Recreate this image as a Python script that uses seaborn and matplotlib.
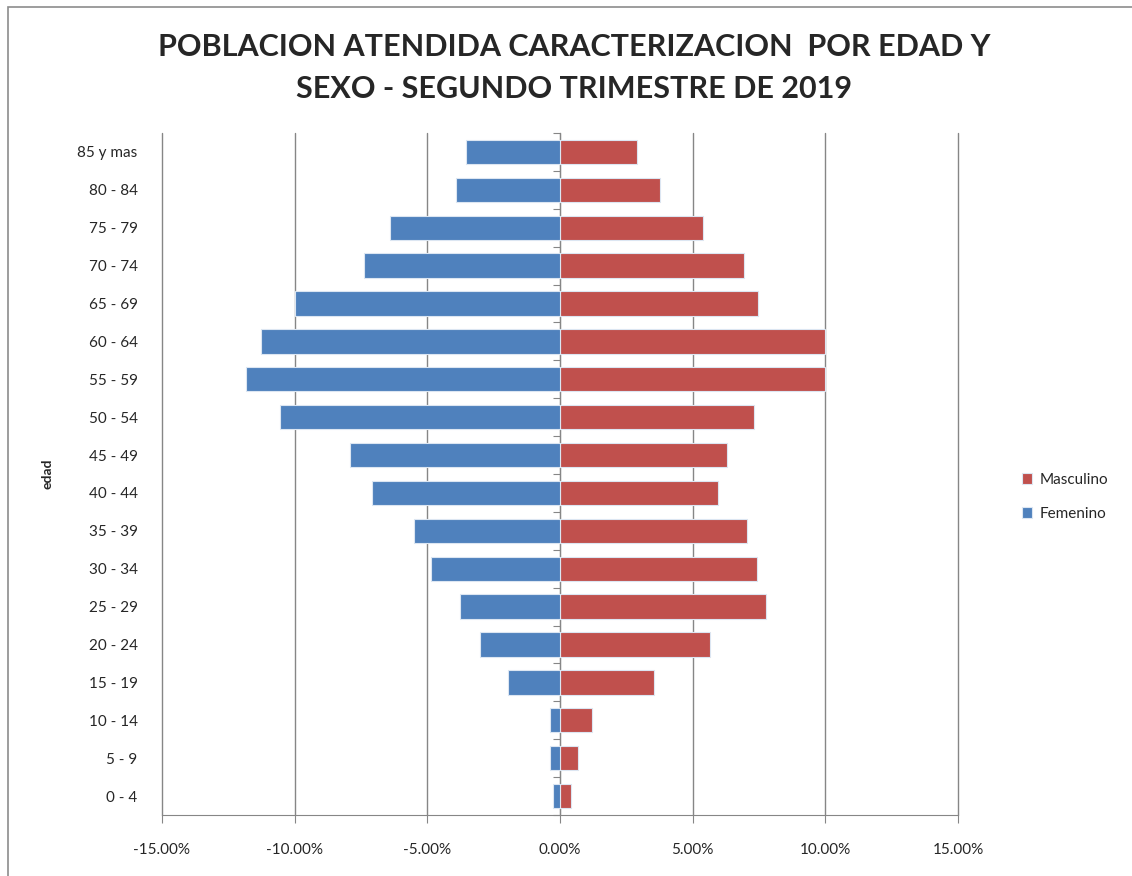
import numpy as np
import pandas as pd
import matplotlib
matplotlib.use("Agg")
import matplotlib.pyplot as plt
from matplotlib.ticker import FuncFormatter
from matplotlib.patches import Rectangle
import seaborn as sns

# age groups, top to bottom as in the chart
EDADES = ["85 y mas", "80 - 84", "75 - 79", "70 - 74", "65 - 69", "60 - 64",
          "55 - 59", "50 - 54", "45 - 49", "40 - 44", "35 - 39", "30 - 34",
          "25 - 29", "20 - 24", "15 - 19", "10 - 14", "5 - 9", "0 - 4"]

# percentages (women drawn to the left)
MASCULINO = [2.90, 3.77, 5.39, 6.95, 7.48, 10.00, 10.00, 7.30, 6.29,
             5.95, 7.03, 7.42, 7.75, 5.66, 3.53, 1.21, 0.68, 0.41]
FEMENINO = [-3.53, -3.93, -6.41, -7.37, -10.00, -11.26, -11.84, -10.54, -7.93,
            -7.10, -5.51, -4.85, -3.77, -3.03, -1.95, -0.36, -0.36, -0.25]

SEXOS = ["Masculino", "Femenino"]
COLORES = {"Masculino": "#C0504D", "Femenino": "#4F81BD"}
X_TICKS = [-15, -10, -5, 0, 5, 10, 15]

TITULO = "POBLACION ATENDIDA CARACTERIZACION  POR EDAD Y\nSEXO - SEGUNDO TRIMESTRE DE 2019"


def build_frame():
    """Long format table for seaborn"""
    df_m = pd.DataFrame({"edad": EDADES, "valor": MASCULINO, "sexo": "Masculino"})
    df_f = pd.DataFrame({"edad": EDADES, "valor": FEMENINO, "sexo": "Femenino"})
    return pd.concat([df_m, df_f], ignore_index=True)


def main():
    sns.set_style("white")
    plt.rcParams["font.family"] = ["Lato", "DejaVu Sans"]

    df = build_frame()

    fig = plt.figure(figsize=(11.32, 8.76), dpi=100)
    ax = fig.add_axes([162 / 1132, 1 - 815 / 876, 796 / 1132, 682 / 876])

    sns.barplot(data=df, x="valor", y="edad", hue="sexo", order=EDADES,
                hue_order=SEXOS, palette=COLORES, orient="h", dodge=False,
                width=0.64, saturation=1, edgecolor="#dce6f2", linewidth=0.8,
                ax=ax, zorder=3)

    ax.set_xlim(-15, 15)
    ax.set_xticks(X_TICKS)
    ax.xaxis.set_major_formatter(FuncFormatter(lambda v, p: f"{v:.2f}%"))
    ax.grid(axis="x", color="#868686", linewidth=1)
    for gl in ax.get_xgridlines():
        gl.set_clip_on(False)
    ax.set_axisbelow(True)

    for s in ["top", "right", "left"]:
        ax.spines[s].set_visible(False)
    ax.spines["bottom"].set_color("#868686")
    ax.tick_params(axis="x", bottom=True, length=6, color="#868686",
                   labelsize=11, pad=14)
    ax.tick_params(axis="y", left=False, labelsize=11, pad=14)

    # category axis drawn on the zero line, ticks to its left
    sec = ax.secondary_yaxis(0.5)
    sec.set_alignment("left")
    sec.set_yticks(np.arange(len(EDADES) + 1) - 0.5)
    sec.set_yticklabels([])
    sec.spines["left"].set_color("#868686")
    sec.tick_params(length=5, direction="out", color="#868686")

    ax.set_xlabel("")
    ax.set_ylabel("edad", fontsize=10, fontweight="bold")
    ax.yaxis.set_label_coords(-0.136, 0.5)

    handles, labels = ax.get_legend_handles_labels()
    ax.legend(handles, labels, loc="center left",
              bbox_to_anchor=(1008 / 1132, 1 - 497 / 876),
              bbox_transform=fig.transFigure, frameon=False, fontsize=11,
              handlelength=0.7, handleheight=0.7, labelspacing=1.3,
              handletextpad=0.5)

    fig.text(574 / 1132, 1 - 68 / 876, TITULO, ha="center", va="center",
             fontsize=22, fontweight="bold", linespacing=1.6)

    # outer chart frame
    fig.add_artist(Rectangle((8 / 1132, -0.05), 1.2, 1 - 7 / 876 + 0.05,
                             transform=fig.transFigure, fill=False,
                             edgecolor="#8c8c8c", linewidth=1.2))

    fig.savefig("out.png", dpi=100)


if __name__ == "__main__":
    main()
